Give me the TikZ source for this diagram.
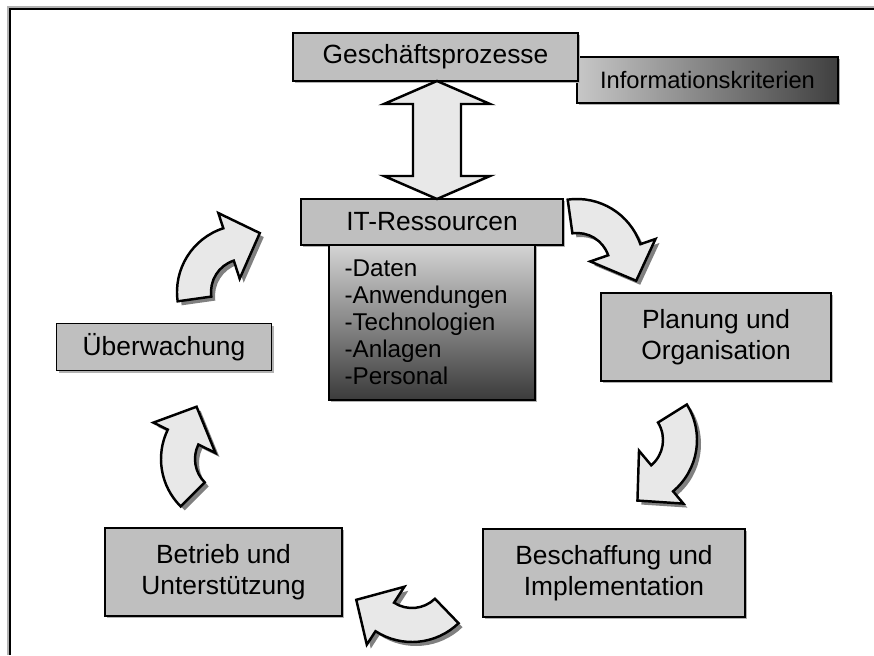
\documentclass[tikz,border=0pt]{standalone}
\usepackage{fontspec}
\setmainfont{Liberation Sans}
\usetikzlibrary{positioning,calc,shadows}

\tikzset{
  kasten/.style={draw, line width=0.9pt, fill=black!25, inner sep=0pt, outer sep=0pt,
    font=\fontsize{15}{17.5}\selectfont, align=center,
    drop shadow={shadow xshift=1.2pt, shadow yshift=-1.2pt, fill=black!30, opacity=1}},
  pfeil/.style={draw, line width=1.4pt, fill=black!9, line join=miter},
  schatten/.style={fill=black!50},
}

% curved block arrow: centre, tail angle, head angle
\newcommand{\bogenpfeil}[3]{%
  \fill[schatten, shift={(#1)}, shift={(4,4)}] (#2:67) arc[start angle=#2, end angle=#3, radius=67]
    -- (#3:83) -- ({#3+33}:61) -- (#3:14) -- (#3:33) arc[start angle=#3, end angle=#2, radius=33] -- cycle;
  \filldraw[pfeil, shift={(#1)}] (#2:67) arc[start angle=#2, end angle=#3, radius=67]
    -- (#3:83) -- ({#3+33}:61) -- (#3:14) -- (#3:33) arc[start angle=#3, end angle=#2, radius=33] -- cycle;
}

\begin{document}
\begin{tikzpicture}[x=0.02cm, y=-0.02cm]
    \useasboundingbox (0,0) rectangle (874,655);

    % Frame
    \draw[black!30, line width=2pt] (9,655) -- (9,8) -- (874,8);
    \draw[line width=1.1pt] (10,655) -- (10,9) -- (874,9);

    % Top
    \node[kasten, minimum width=5.22cm, minimum height=0.92cm, font=\fontsize{13.5}{16}\selectfont,
        left color=black!22, right color=black!75] (info) at (707.5,80) {Informationskriterien};
    \node[kasten, minimum width=5.70cm, minimum height=0.96cm] (gp) at (435.5,57) {Geschäftsprozesse};

    % Centre
    \node[kasten, minimum width=5.24cm, minimum height=0.92cm] (itres) at (432,222) {IT-Ressourcen};
    \node[kasten, minimum width=4.12cm, minimum height=3.10cm, text width=3.5cm, align=left,
        font=\fontsize{13.8}{15.4}\selectfont, top color=black!17, bottom color=black!77,
        anchor=north] (itlist) at (itres.south) {-Daten\\-Anwendungen\\-Technologien\\-Anlagen\\-Personal};

    % Cycle
    \node[kasten, minimum width=4.30cm, minimum height=0.94cm] (ueb) at (164,347) {Überwachung};
    \node[kasten, minimum width=4.60cm, minimum height=1.76cm] (plan) at (716,337) {Planung und\\Organisation};
    \node[kasten, minimum width=5.24cm, minimum height=1.76cm] (besch) at (614,573) {Beschaffung und\\Implementation};
    \node[kasten, minimum width=4.74cm, minimum height=1.76cm] (betr) at (223.5,572) {Betrieb und\\Unterstützung};

    % Double arrow
    \coordinate (oben) at ($(gp.south)+(1.5,0)$);
    \coordinate (unten) at ($(itres.north)+(5,0)$);
    \filldraw[pfeil] (oben) -- ++(53,23) -- ++(-29,0) -- ($(unten)+(24,-23)$) -- ++(29,0) -- (unten)
        -- ++(-53,-23) -- ++(29,0) -- ($(oben)+(-24,23)$) -- ++(-29,0) -- cycle;

    % Curved arrows
    \bogenpfeil{577,266}{-98}{-19}
    \bogenpfeil{630,440}{-32}{50}
    \bogenpfeil{412,575}{46}{123}
    \bogenpfeil{228,459}{135}{206}
    \bogenpfeil{244,292}{172}{252}
\end{tikzpicture}
\end{document}
